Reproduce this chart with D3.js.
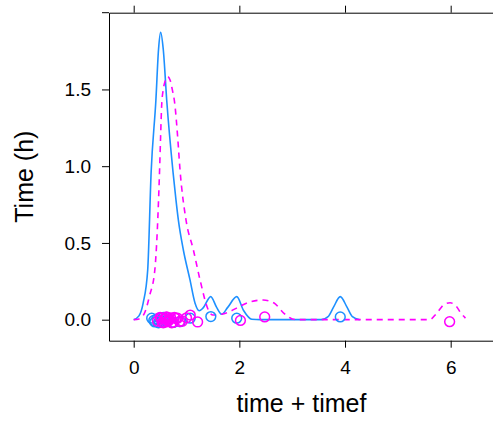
<!DOCTYPE html>
<html>
<head>
<meta charset="utf-8">
<script src="https://cdn.jsdelivr.net/npm/d3@7"></script>
<style>
  html, body { margin: 0; padding: 0; background: #fff; }
  svg { display: block; }
  text { font-family: "Liberation Sans", Arial, Helvetica, sans-serif; fill: #000; }
</style>
</head>
<body>
<script>
// ---- data ----
const xTicks = [0, 2, 4, 6];
const yTicks = [0, 0.5, 1.0, 1.5];
const xTitle = "time + timef";
const yTitle = "Time (h)";

// density curve of "time" (solid blue)
const timeCurveX = [0.00, 0.10, 0.18, 0.265, 0.33, 0.42, 0.47, 0.51, 0.56, 0.625, 0.745, 0.80, 0.845, 0.94, 1.066, 1.16, 1.24, 1.31, 1.458, 1.57, 1.667, 1.78, 1.951, 2.08, 2.235, 2.40, 3.55, 3.68, 3.78, 3.91, 4.04, 4.14, 4.28];
const timeCurveY = [0.000, 0.025, 0.110, 0.324, 0.960, 1.430, 1.760, 1.872, 1.760, 1.430, 0.960, 0.780, 0.650, 0.454, 0.259, 0.109, 0.058, 0.075, 0.150, 0.080, 0.035, 0.080, 0.150, 0.060, 0.003, 0.000, 0.000, 0.020, 0.080, 0.150, 0.080, 0.020, 0.000];

// density curve of "timef" (dashed magenta)
const timefCurveX = [0.00, 0.10, 0.20, 0.30, 0.40, 0.49, 0.51, 0.53, 0.56, 0.60, 0.644, 0.69, 0.73, 0.78, 0.83, 0.877, 0.99, 1.13, 1.256, 1.413, 1.50, 1.65, 1.80, 2.00, 2.20, 2.45, 2.65, 2.85, 3.00, 3.10, 5.60, 5.74, 5.88, 5.99, 6.10, 6.20, 6.28];
const timefCurveY = [0.000, 0.005, 0.040, 0.155, 0.324, 0.975, 1.200, 1.400, 1.500, 1.560, 1.583, 1.560, 1.500, 1.400, 1.200, 0.975, 0.650, 0.454, 0.259, 0.063, 0.030, 0.035, 0.050, 0.085, 0.115, 0.128, 0.110, 0.040, 0.005, 0.000, 0.000, 0.044, 0.100, 0.110, 0.090, 0.040, 0.010];

// observations (jittered around 0)
const timeObsX = [0.34, 0.38, 0.40, 0.44, 0.47, 0.50, 0.53, 0.56, 0.60, 0.66, 0.75, 0.88, 1.07, 1.46, 1.95, 3.91];
const timeObsY = [0.010, -0.005, -0.015, 0.005, -0.020, 0.012, -0.008, 0.015, -0.012, 0.000, -0.018, -0.013, 0.010, 0.020, 0.010, 0.018];
const timefObsX = [0.45, 0.50, 0.52, 0.54, 0.56, 0.58, 0.59, 0.61, 0.62, 0.63, 0.65, 0.66, 0.68, 0.70, 0.72, 0.74, 0.77, 0.80, 0.83, 0.87, 0.92, 1.00, 1.07, 1.21, 2.02, 2.48, 5.98];
const timefObsY = [-0.010, 0.015, 0.010, -0.018, -0.020, 0.006, 0.005, -0.015, 0.018, 0.015, -0.010, -0.005, 0.004, 0.012, -0.020, -0.018, 0.014, 0.008, 0.010, -0.012, -0.010, 0.012, 0.030, -0.015, -0.005, 0.018, -0.013];

// ---- layout ----
const W = 493, H = 425;
const plotLeft = 109, plotRight = 494, plotTop = 12.7, plotBottom = 340.7;
const blue = "#1E90FF", magenta = "#FF00FF";

const svg = d3.select("body").append("svg").attr("width", W).attr("height", H);

const x = d3.scaleLinear().domain([-0.4675, 6.82]).range([plotLeft, plotRight]);
const y = d3.scaleLinear().domain([-0.137, 2.0]).range([plotBottom, plotTop]);

// curves
const line = d3.line().x(d => x(d[0])).y(d => y(d[1])).curve(d3.curveMonotoneX);
svg.append("path")
  .datum(d3.zip(timeCurveX, timeCurveY))
  .attr("d", line).attr("fill", "none").attr("stroke", blue).attr("stroke-width", 1.6);
svg.append("path")
  .datum(d3.zip(timefCurveX, timefCurveY))
  .attr("d", line).attr("fill", "none").attr("stroke", magenta).attr("stroke-width", 1.6)
  .attr("stroke-dasharray", "6,5");

// points
svg.append("g").selectAll("circle").data(d3.zip(timeObsX, timeObsY)).join("circle")
  .attr("cx", d => x(d[0])).attr("cy", d => y(d[1])).attr("r", 4.9)
  .attr("fill", "none").attr("stroke", blue).attr("stroke-width", 1.5);
svg.append("g").selectAll("circle").data(d3.zip(timefObsX, timefObsY)).join("circle")
  .attr("cx", d => x(d[0])).attr("cy", d => y(d[1])).attr("r", 4.9)
  .attr("fill", "none").attr("stroke", magenta).attr("stroke-width", 1.5);

// axes
function styleAxis(g) {
  g.selectAll("path.domain").attr("stroke", "#000").attr("stroke-width", 1);
  g.selectAll(".tick line").attr("stroke", "#000").attr("stroke-width", 1);
  g.selectAll(".tick text").attr("font-size", 19).attr("fill", "#000")
    .attr("font-family", "'Liberation Sans', Arial, Helvetica, sans-serif");
}

const gx = svg.append("g").attr("transform", `translate(0,${plotBottom})`)
  .call(d3.axisBottom(x).tickValues(xTicks).tickSize(7).tickSizeOuter(0).tickPadding(13).tickFormat(d3.format("d")));
styleAxis(gx);

const gy = svg.append("g").attr("transform", `translate(${plotLeft},0)`)
  .call(d3.axisLeft(y).tickValues(yTicks).tickSize(7).tickSizeOuter(0).tickPadding(11).tickFormat(d3.format(".1f")));
styleAxis(gy);

const gt = svg.append("g").attr("transform", `translate(0,${plotTop})`)
  .call(d3.axisTop(x).tickValues(xTicks).tickSize(7).tickSizeOuter(0).tickFormat(""));
styleAxis(gt);
svg.append("line").attr("x1", plotLeft - 7).attr("x2", plotLeft).attr("y1", plotTop).attr("y2", plotTop)
  .attr("stroke", "#000").attr("stroke-width", 1);

// titles
svg.append("text").attr("x", (plotLeft + plotRight) / 2).attr("y", 411.5)
  .attr("text-anchor", "middle").attr("font-size", 25).text(xTitle);
svg.append("text")
  .attr("transform", `translate(33,${(plotTop + plotBottom) / 2}) rotate(-90)`)
  .attr("text-anchor", "middle").attr("font-size", 25).text(yTitle);
</script>
</body>
</html>
